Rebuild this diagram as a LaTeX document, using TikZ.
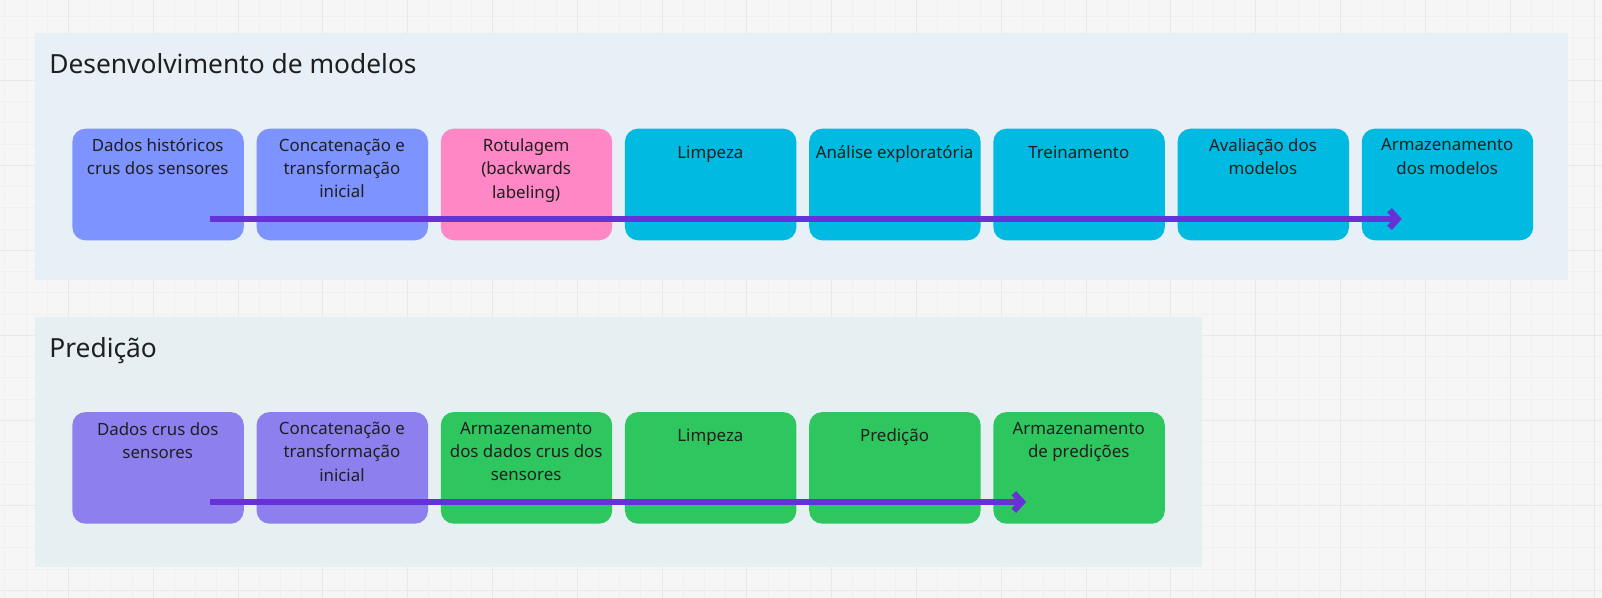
\documentclass[tikz,border=0pt]{standalone}
\usepackage{fontspec}
\setmainfont{Noto Sans}
\usetikzlibrary{arrows.meta}

\definecolor{pagebg}{HTML}{F6F6F6}
\definecolor{gridminor}{HTML}{F0F0F0}
\definecolor{gridmajor}{HTML}{E9E9E9}
\definecolor{devbg}{HTML}{E7EFF7}
\definecolor{predbg}{HTML}{E6F0F3}
\definecolor{periw}{HTML}{7D93FF}
\definecolor{pinkc}{HTML}{FF87C6}
\definecolor{cyanc}{HTML}{00BAE2}
\definecolor{violc}{HTML}{8E7FEE}
\definecolor{greenc}{HTML}{2EC65E}
\definecolor{flowc}{HTML}{6631D7}
\definecolor{ink}{HTML}{1F1F1F}

\tikzset{
  stepbox/.style={rounded corners=7.5pt, minimum width=3.43cm,
    minimum height=2.234cm, inner sep=0pt, anchor=north west},
  steptext/.style={align=center, anchor=north, inner sep=0pt, text=ink,
    font=\fontsize{9.6}{13.2}\selectfont,
    execute at begin node={\rule{0pt}{11pt}}},
  flow/.style={line width=3.6pt, draw=flowc,
    -{Straight Barb[length=4.5pt,width=10pt]}},
  frametitle/.style={anchor=base west, inner sep=0pt, text=ink,
    font=\fontsize{15}{18}\selectfont}
}

\begin{document}
\begin{tikzpicture}[x=0.02cm, y=-0.02cm]

% ===== Canvas with light grid =====
\fill[pagebg] (0,0) rectangle (1602,598);
\useasboundingbox (0,0) rectangle (1602,598);
\foreach \k in {-3,...,72}
  \draw[gridminor, line width=0.5pt] ({68.5+21.2*\k},0) -- ({68.5+21.2*\k},598);
\foreach \k in {-4,...,24}
  \draw[gridminor, line width=0.5pt] (0,{80.3+21.25*\k}) -- (1602,{80.3+21.25*\k});
\foreach \k in {-1,...,18}
  \draw[gridmajor, line width=0.6pt] ({68.5+84.8*\k},0) -- ({68.5+84.8*\k},598);
\foreach \k in {-1,...,6}
  \draw[gridmajor, line width=0.6pt] (0,{80.3+85*\k}) -- (1602,{80.3+85*\k});

% ===== Desenvolvimento de modelos =====
\fill[devbg] (34.7,33.3) rectangle (1568.3,279.5);
\node[frametitle] (devtitle) at (49,73.3) {Desenvolvimento de modelos};

\foreach \i/\col/\txt in {
    1/periw/{Dados históricos\\crus dos sensores},
    2/periw/{Concatenação e\\transformação\\inicial},
    3/pinkc/{Rotulagem\\(backwards\\labeling)},
    4/cyanc/{Limpeza},
    5/cyanc/{Análise exploratória},
    6/cyanc/{Treinamento},
    7/cyanc/{Avaliação dos\\modelos},
    8/cyanc/{Armazenamento\\dos modelos}} {
  \node[stepbox, fill=\col] (dev\i) at ({72+184.2*(\i-1)},128.3) {};
  \node[steptext] (devt\i) at ({72+184.2*(\i-1)+85.75},138.5) {\txt};
}

\coordinate (devA) at (209.5,219);
\coordinate (devB) at (1401.7,219);
\draw[flow] (devA) -- (devB);

% ===== Predição =====
\fill[predbg] (34.7,316.7) rectangle (1202.3,566.7);
\node[frametitle] (predtitle) at (49,357.3) {Predição};

\foreach \i/\col/\txt in {
    1/violc/{Dados crus dos\\sensores},
    2/violc/{Concatenação e\\transformação\\inicial},
    3/greenc/{Armazenamento\\dos dados crus dos\\sensores},
    4/greenc/{Limpeza},
    5/greenc/{Predição},
    6/greenc/{Armazenamento\\de predições}} {
  \node[stepbox, fill=\col] (pred\i) at ({72+184.2*(\i-1)},411.7) {};
  \node[steptext] (predt\i) at ({72+184.2*(\i-1)+85.75},421.9) {\txt};
}

\coordinate (predA) at (209.5,502);
\coordinate (predB) at (1026,502);
\draw[flow] (predA) -- (predB);

\end{tikzpicture}
\end{document}
